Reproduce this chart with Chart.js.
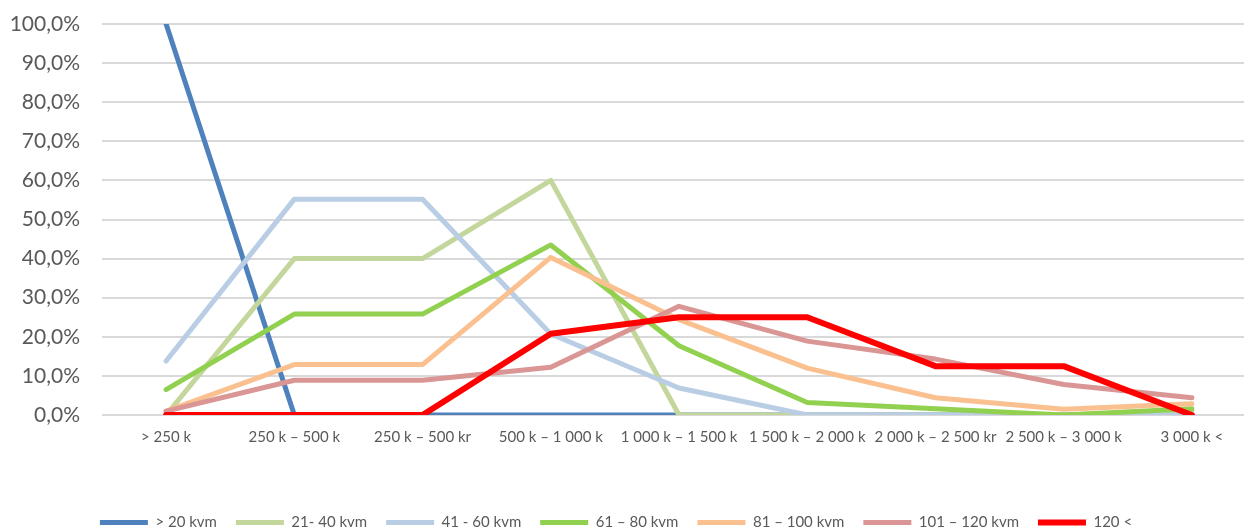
<!DOCTYPE html>
<html>
<head>
<meta charset="utf-8">
<script src="https://cdn.jsdelivr.net/npm/chart.js"></script>
<style>
  html, body { margin: 0; padding: 0; background: #fff; overflow: hidden; }
  #wrap { width: 1256px; height: 530px; }
</style>
</head>
<body>
<div id="wrap"><canvas id="chart" width="1256" height="530"></canvas></div>
<script>
const categories = ['> 250 k', '250 k – 500 k', '250 k – 500 kr', '500 k – 1 000 k', '1 000 k – 1 500 k',
    '1 500 k – 2 000 k', '2 000 k – 2 500 kr', '2 500 k – 3 000 k', '3 000 k <'];

const seriesNames = ['> 20 kvm', '21- 40 kvm', '41 - 60 kvm', '61 – 80 kvm', '81 – 100 kvm', '101 – 120 kvm', '120 <'];

const kvm20 = [100, 0, 0, 0, 0, 0, 0, 0, 0];
const kvm21_40 = [0, 40, 40, 60, 0, 0, 0, 0, 1];
const kvm41_60 = [13.8, 55.2, 55.2, 20.7, 6.9, 0, 0, 0, 0];
const kvm61_80 = [6.5, 25.8, 25.8, 43.5, 17.7, 3.2, 1.6, 0, 1.6];
const kvm81_100 = [1, 12.9, 12.9, 40.3, 24.4, 12, 4.4, 1.5, 2.9];
const kvm101_120 = [1, 8.9, 8.9, 12.2, 27.8, 18.9, 14.3, 7.8, 4.4];
const kvm120 = [0, 0, 0, 20.8, 25, 25, 12.5, 12.5, 0];

const yTickLabels = ['0,0%', '10,0%', '20,0%', '30,0%', '40,0%', '50,0%', '60,0%', '70,0%', '80,0%', '90,0%', '100,0%'];

const colors = ['#4F81BD', '#C3D69B', '#B9CDE5', '#92D050', '#FAC090', '#D99694', '#FF0000'];
const allSeries = [kvm20, kvm21_40, kvm41_60, kvm61_80, kvm81_100, kvm101_120, kvm120];

const datasets = allSeries.map((values, i) => ({
    label: seriesNames[i],
    data: values,
    borderColor: colors[i],
    backgroundColor: colors[i],
    borderWidth: i === 6 ? 6 : 5,
    borderCapStyle: 'round',
    borderJoinStyle: 'round',
    pointRadius: 0,
    tension: 0,
    fill: false,
    order: 6 - i   // later series on top, like the original
}));

// nudge the legend a bit left, the original isn't centred on the page
const legendShift = {
    id: 'legendShift',
    afterLayout(chart) {
        chart.legend.left -= 17;
        chart.legend.right -= 17;
    }
};

new Chart(document.getElementById('chart'), {
    type: 'line',
    data: { labels: categories, datasets: datasets },
    plugins: [legendShift],
    options: {
        responsive: false,
        animation: false,
        layout: { padding: { top: 24, left: 10, right: 0, bottom: -10 } },
        plugins: {
            tooltip: { enabled: false },
            legend: {
                position: 'bottom',
                labels: {
                    usePointStyle: true,
                    pointStyle: 'line',
                    pointStyleWidth: 48,
                    padding: 19,
                    color: '#595959',
                    font: { family: 'Lato', size: 15 },
                    sort: (a, b) => a.datasetIndex - b.datasetIndex
                }
            }
        },
        scales: {
            x: {
                offset: true,
                grid: { display: false, drawTicks: false },
                border: { display: false },
                ticks: {
                    color: '#595959',
                    font: { family: 'Lato', size: 15 },
                    padding: 13,
                    maxRotation: 0,
                    autoSkip: false
                },
                afterFit: (scale) => { scale.height = 81; }
            },
            y: {
                min: 0,
                max: 100,
                grid: { color: '#D9D9D9', lineWidth: 2, drawTicks: false },
                border: { display: false },
                ticks: {
                    stepSize: 10,
                    color: '#595959',
                    font: { family: 'Lato', size: 21 },
                    padding: 22,
                    callback: (value, index) => yTickLabels[index]
                },
                afterFit: (scale) => {
                    scale.width = 92;
                    scale.paddingTop = 0;
                }
            }
        }
    }
});
</script>
</body>
</html>
